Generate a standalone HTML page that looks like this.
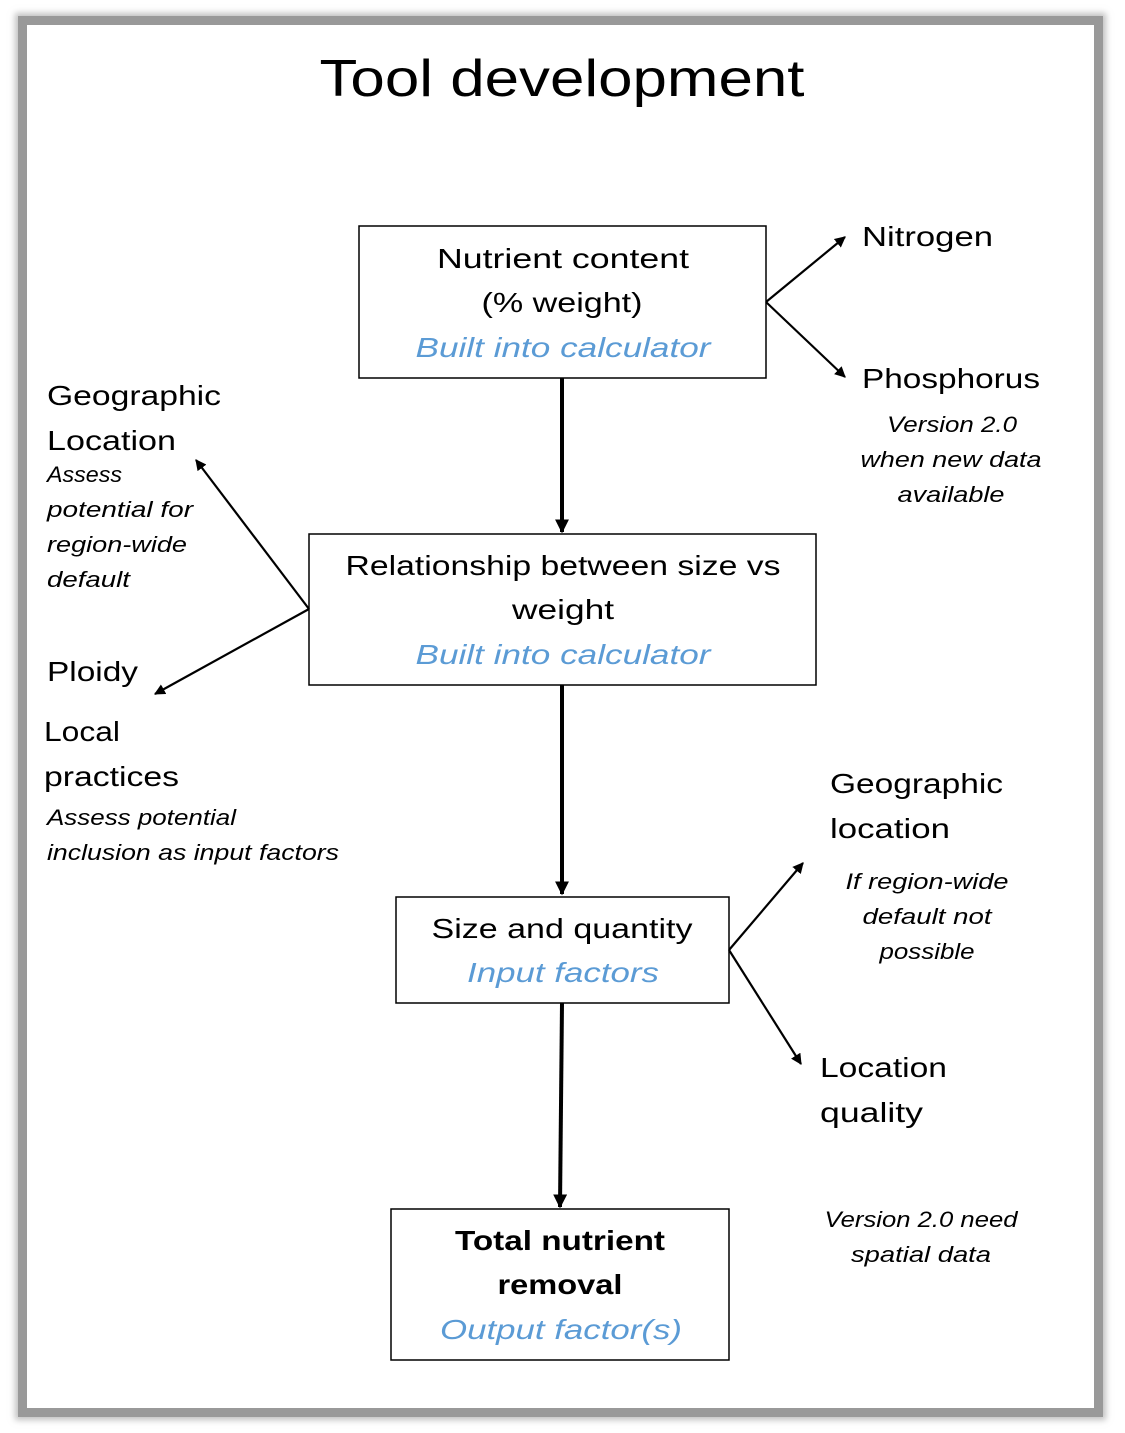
<!DOCTYPE html>
<html><head><meta charset="utf-8"><style>
html,body{margin:0;padding:0;background:#fff;}
body{width:1125px;height:1433px;position:relative;overflow:hidden;}
.frame{position:absolute;left:27px;top:25px;width:1067px;height:1383px;background:#fff;box-shadow:0 0 0 9px #999,0 0 6px 12px rgba(150,150,150,0.6);}
svg{position:absolute;left:0;top:0;}
text{font-family:"Liberation Sans",sans-serif;fill:#000;}
.m{font-size:28px;}
.i{font-size:22px;font-style:italic;}
.b{font-size:28px;font-style:italic;fill:#5B9BD5;}
</style></head><body>
<div class="frame"></div>
<svg width="1125" height="1433" viewBox="0 0 1125 1433">
<defs>
<marker id="ah" viewBox="0 0 10 10" refX="9" refY="5" markerWidth="5" markerHeight="5" orient="auto"><path d="M0,0 L10,5 L0,10 z" fill="#000"/></marker>
<marker id="ah2" viewBox="0 0 10 10" refX="9" refY="5" markerWidth="3.5" markerHeight="3.5" orient="auto"><path d="M0,0 L10,5 L0,10 z" fill="#000"/></marker>
</defs>
<text x="562" y="96" text-anchor="middle" font-size="52" textLength="485" lengthAdjust="spacingAndGlyphs">Tool development</text>

<g fill="none" stroke="#000" stroke-width="1.5">
<rect x="359" y="226" width="407" height="152"/>
<rect x="309" y="534" width="507" height="151"/>
<rect x="396" y="897" width="333" height="106"/>
<rect x="391" y="1209" width="338" height="151"/>
</g>
<g stroke="#000" stroke-width="4" fill="none">
<line x1="562" y1="378" x2="562" y2="532" marker-end="url(#ah2)"/>
<line x1="562" y1="685" x2="562" y2="894" marker-end="url(#ah2)"/>
<line x1="562" y1="1003" x2="560" y2="1207" marker-end="url(#ah2)"/>
</g>
<g stroke="#000" stroke-width="2.2" fill="none">
<line x1="766" y1="302" x2="845" y2="237" marker-end="url(#ah)"/>
<line x1="766" y1="302" x2="845" y2="377" marker-end="url(#ah)"/>
<line x1="309" y1="609" x2="196" y2="460" marker-end="url(#ah)"/>
<line x1="309" y1="609" x2="155" y2="694" marker-end="url(#ah)"/>
<line x1="729" y1="950" x2="803" y2="863" marker-end="url(#ah)"/>
<line x1="729" y1="950" x2="801" y2="1064" marker-end="url(#ah)"/>
</g>

<g text-anchor="middle">
<text class="m" x="563" y="268" textLength="252" lengthAdjust="spacingAndGlyphs">Nutrient content</text>
<text class="m" x="562" y="312" textLength="161" lengthAdjust="spacingAndGlyphs">(% weight)</text>
<text class="b" x="563" y="357" textLength="295" lengthAdjust="spacingAndGlyphs">Built into calculator</text>
<text class="m" x="563" y="575" textLength="435" lengthAdjust="spacingAndGlyphs">Relationship between size vs</text>
<text class="m" x="563" y="619" textLength="102" lengthAdjust="spacingAndGlyphs">weight</text>
<text class="b" x="563" y="664" textLength="295" lengthAdjust="spacingAndGlyphs">Built into calculator</text>
<text class="m" x="562" y="938" textLength="261" lengthAdjust="spacingAndGlyphs">Size and quantity</text>
<text class="b" x="563" y="982" textLength="192" lengthAdjust="spacingAndGlyphs">Input factors</text>
<text class="m" x="560" y="1250" font-weight="bold" textLength="210" lengthAdjust="spacingAndGlyphs">Total nutrient</text>
<text class="m" x="560" y="1294" font-weight="bold" textLength="125" lengthAdjust="spacingAndGlyphs">removal</text>
<text class="b" x="561" y="1339" textLength="242" lengthAdjust="spacingAndGlyphs">Output factor(s)</text>

<text class="i" x="952" y="432" textLength="130" lengthAdjust="spacingAndGlyphs">Version 2.0</text>
<text class="i" x="951" y="467" textLength="181" lengthAdjust="spacingAndGlyphs">when new data</text>
<text class="i" x="951" y="502" textLength="107" lengthAdjust="spacingAndGlyphs">available</text>
<text class="i" x="927" y="889" textLength="163" lengthAdjust="spacingAndGlyphs">If region-wide</text>
<text class="i" x="927" y="924" textLength="129" lengthAdjust="spacingAndGlyphs">default not</text>
<text class="i" x="927" y="959" textLength="95" lengthAdjust="spacingAndGlyphs">possible</text>
<text class="i" x="921" y="1227" textLength="193" lengthAdjust="spacingAndGlyphs">Version 2.0 need</text>
<text class="i" x="921" y="1262" textLength="140" lengthAdjust="spacingAndGlyphs">spatial data</text>
</g>

<text class="m" x="862" y="246" textLength="131" lengthAdjust="spacingAndGlyphs">Nitrogen</text>
<text class="m" x="862" y="388" textLength="178" lengthAdjust="spacingAndGlyphs">Phosphorus</text>

<text class="m" x="47" y="405" textLength="174" lengthAdjust="spacingAndGlyphs">Geographic</text>
<text class="m" x="47" y="450" textLength="129" lengthAdjust="spacingAndGlyphs">Location</text>
<text class="i" x="47" y="482" textLength="75" lengthAdjust="spacingAndGlyphs">Assess</text>
<text class="i" x="47" y="517" textLength="146" lengthAdjust="spacingAndGlyphs">potential for</text>
<text class="i" x="47" y="552" textLength="140" lengthAdjust="spacingAndGlyphs">region-wide</text>
<text class="i" x="47" y="587" textLength="83" lengthAdjust="spacingAndGlyphs">default</text>
<text class="m" x="47" y="681" textLength="91" lengthAdjust="spacingAndGlyphs">Ploidy</text>
<text class="m" x="44" y="741" textLength="76" lengthAdjust="spacingAndGlyphs">Local</text>
<text class="m" x="44" y="786" textLength="135" lengthAdjust="spacingAndGlyphs">practices</text>
<text class="i" x="47" y="825" textLength="189" lengthAdjust="spacingAndGlyphs">Assess potential</text>
<text class="i" x="47" y="860" textLength="292" lengthAdjust="spacingAndGlyphs">inclusion as input factors</text>

<text class="m" x="830" y="793" textLength="173" lengthAdjust="spacingAndGlyphs">Geographic</text>
<text class="m" x="830" y="838" textLength="120" lengthAdjust="spacingAndGlyphs">location</text>
<text class="m" x="820" y="1077" textLength="127" lengthAdjust="spacingAndGlyphs">Location</text>
<text class="m" x="820" y="1122" textLength="103" lengthAdjust="spacingAndGlyphs">quality</text>
</svg>
</body></html>
